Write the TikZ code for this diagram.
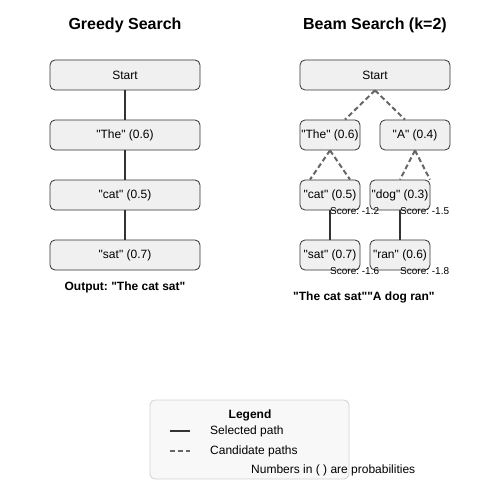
\documentclass[tikz,border=0pt]{standalone}
\usepackage{fontspec}
\setmainfont{Liberation Sans}[Ligatures=TeXOff]
\frenchspacing
\usetikzlibrary{calc,positioning}
\definecolor{boxfill}{RGB}{240,240,240}
\definecolor{boxline}{RGB}{51,51,51}
\definecolor{candgray}{RGB}{102,102,102}
\definecolor{legendfill}{RGB}{248,248,248}
\definecolor{legendline}{RGB}{210,210,210}
\tikzset{%
  token/.style={draw=boxline, fill=boxfill, rectangle, rounded corners=5pt,
    line width=0.8pt, minimum height=30pt, inner sep=0pt,
    font=\fontsize{12}{14}\selectfont},% token box
  widebox/.style={token, minimum width=150pt},% greedy / start box
  beambox/.style={token, minimum width=60pt},% beam candidate box
  heading/.style={font=\fontsize{16}{19}\selectfont\bfseries},% column title
  outtext/.style={inner sep=0pt, font=\fontsize{12}{14}\selectfont\bfseries},% output line
  score/.style={anchor=west, inner sep=0pt, font=\fontsize{10}{12}\selectfont},% beam score
  legendtext/.style={anchor=west, inner sep=0pt, font=\fontsize{12}{14}\selectfont},
  selected/.style={draw=boxline, line width=2pt},% chosen path
  candidate/.style={draw=candgray, line width=2pt, dash pattern=on 5pt off 3pt}% other paths
}

\begin{document}
\begin{tikzpicture}[x=1pt, y=-1pt]
\useasboundingbox (0,0) rectangle (500,500);

% greedy search
\node[heading] (gtitle) at (125,25) {Greedy Search};
\node[widebox] (gstart) at (125,75) {Start};
\node[widebox] (gthe) at (125,135) {"The" (0.6)};
\node[widebox] (gcat) at (125,195) {"cat" (0.5)};
\node[widebox] (gsat) at (125,255) {"sat" (0.7)};
\node[outtext] (gout) at (125,287) {Output: "The cat sat"};

\draw[selected] (gstart) -- (gthe);
\draw[selected] (gthe) -- (gcat);
\draw[selected] (gcat) -- (gsat);

% beam search
\node[heading] (btitle) at (375,25) {Beam Search (k=2)};
\node[widebox] (bstart) at (375,75) {Start};
\node[beambox] (bthe) at (330,135) {"The" (0.6)};
\node[beambox, minimum width=70pt] (ba) at (415,135) {"A" (0.4)};
\node[beambox] (bcat) at (330,195) {"cat" (0.5)};
\node[beambox] (bdog) at (400,195) {"dog" (0.3)};
\node[beambox] (bsat) at (330,255) {"sat" (0.7)};
\node[beambox] (bran) at (400,255) {"ran" (0.6)};

\draw[candidate] (bstart.south) -- ($(bthe.north)+(15,0)$);
\draw[candidate] (bstart.south) -- ($(ba.north)+(-10,0)$);
\draw[candidate] (bthe.south) -- ($(bcat.north)+(-20,0)$);
\draw[candidate] (bthe.south) -- ($(bcat.north)+(20,0)$);
\draw[candidate] (ba.south) -- (bdog.north);
\draw[candidate] (ba.south) -- ($(bdog.north)+(30,0)$);
\draw[selected] (bcat) -- (bsat);
\draw[selected] (bdog) -- (bran);

\node[score] (scat) at (330,211) {Score: -1.2};
\node[score] (sdog) at (400,211) {Score: -1.5};
\node[score] (ssat) at (330,271) {Score: -1.6};
\node[score] (sran) at (400,271) {Score: -1.8};
\node[outtext, anchor=west] (bout) at (293,297) {"The cat sat""A dog ran"};

% legend
\node[draw=legendline, fill=legendfill, rounded corners=5pt, line width=0.8pt,
  minimum width=199pt, minimum height=79pt] (legend) at (249.5,439.5) {};
\node[outtext] (ltitle) at (250,415) {Legend};
\coordinate (sela) at (170,431);
\coordinate (selb) at (190,431);
\coordinate (canda) at (170,451);
\coordinate (candb) at (190,451);
\draw[selected] (sela) -- (selb);
\draw[candidate] (canda) -- (candb);
\node[legendtext] (lsel) at (210,431) {Selected path};
\node[legendtext] (lcand) at (210,451) {Candidate paths};
\node[legendtext] (lnote) at (251,470) {Numbers in ( ) are probabilities};

\end{tikzpicture}
\end{document}
